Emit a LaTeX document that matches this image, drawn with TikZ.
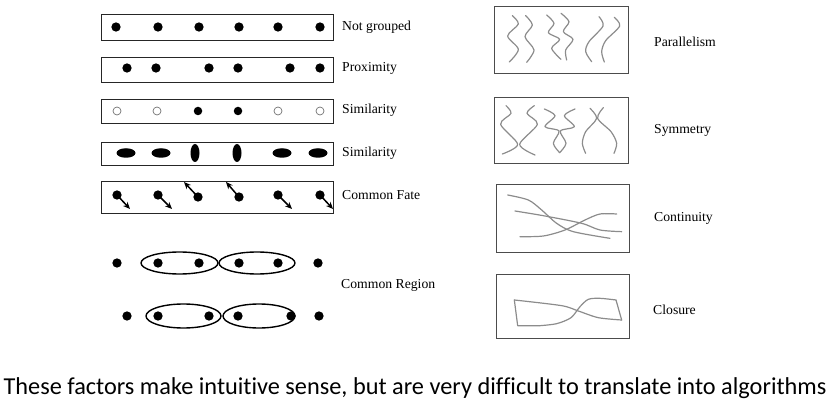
\documentclass[tikz,border=0pt]{standalone}
\usepackage{fontspec}
\setmainfont{Liberation Serif}
\newfontfamily\calib[Ligatures=NoCommon]{Carlito}
\usetikzlibrary{arrows.meta,shapes.geometric}
\begin{document}
\begin{tikzpicture}[x=1pt,y=-1pt,
  frame/.style={draw=black!85, line width=0.9pt},
  rframe/.style={draw=black!70, line width=0.9pt},
  dot/.style={circle, fill=black, inner sep=0pt, minimum size=9.3pt},
  odot/.style={circle, draw=black!55, line width=0.7pt, fill=white, inner sep=0pt, minimum size=8pt},
  hdot/.style={ellipse, fill=black, inner sep=0pt, minimum width=19pt, minimum height=9.5pt},
  vdot/.style={ellipse, fill=black, inner sep=0pt, minimum width=9pt, minimum height=18pt},
  lab/.style={anchor=west, font=\fontsize{13.7}{16}\selectfont, inner sep=0pt},
  curve/.style={draw=black!45, line width=1.2pt, line cap=round, line join=round},
  fate/.style={-{Stealth[length=7pt,width=6pt]}, line width=1.5pt},
  region/.style={ellipse, draw, line width=1.4pt, inner sep=0pt}
]
\useasboundingbox (0,0) rectangle (830,406);

% ---------- left panel ----------
% row 1
\draw[frame] (101,14) rectangle (333,40);
\foreach \x [count=\i] in {116,158,199,239,278,320} \node[dot] (a\i) at (\x,27) {};
\node[lab] (l1) at (342,27) {Not grouped};
% row 2
\draw[frame] (101,57) rectangle (333,82);
\foreach \x [count=\i] in {127,156,209,238,290,320} \node[dot] (b\i) at (\x,68) {};
\node[lab] (l2) at (342,68) {Proximity};
% row 3
\draw[frame] (101,99) rectangle (333,123);
\node[odot] (c1) at (117,111) {};
\node[odot] (c2) at (157,111) {};
\node[dot,minimum size=8.5pt] (c3) at (198,111) {};
\node[dot,minimum size=8.5pt] (c4) at (238,111) {};
\node[odot] (c5) at (278,111) {};
\node[odot] (c6) at (320,111) {};
\node[lab] (l3) at (342,110) {Similarity};
% row 4
\draw[frame] (101,142) rectangle (333,165);
\node[hdot] (d1) at (126,153) {};
\node[hdot] (d2) at (161,153) {};
\node[vdot] (d3) at (195,153) {};
\node[vdot] (d4) at (237,153) {};
\node[hdot] (d5) at (282,153) {};
\node[hdot] (d6) at (318,153) {};
\node[lab] (l4) at (342,153) {Similarity};
% row 5
\draw[frame] (101,181) rectangle (333,213);
\node[dot] (e1) at (117,195) {};
\node[dot] (e2) at (158,195) {};
\node[dot] (e3) at (198,197) {};
\node[dot] (e4) at (239,197) {};
\node[dot] (e5) at (278,195) {};
\node[dot] (e6) at (320,195) {};
\coordinate (f1) at (130,209);
\coordinate (f2) at (172,209);
\coordinate (f3) at (184,182);
\coordinate (f4) at (226,182);
\coordinate (f5) at (292,209);
\coordinate (f6) at (333,209);
\foreach \i in {1,...,6} \draw[fate] (e\i.center) -- (f\i);
\node[lab] (l5) at (342,195) {Common Fate};
% common region
\foreach \x [count=\i] in {117,158,199,239,278,318} \node[dot] (g\i) at (\x,263) {};
\node[region, minimum width=77pt, minimum height=22pt] (r1) at (179.5,263) {};
\node[region, minimum width=76pt, minimum height=22pt] (r2) at (257,263) {};
\foreach \x [count=\i] in {127,158,209,238,291,319} \node[dot] (h\i) at (\x,316) {};
\node[region, minimum width=75pt, minimum height=24pt] (r3) at (183.5,316) {};
\node[region, minimum width=72pt, minimum height=24pt] (r4) at (259,316) {};
\node[lab] (l6) at (341,285) {Common Region};

% ---------- right panel ----------
\draw[rframe] (494,6) rectangle (628,73);
\begin{scope}[shift={(485,0)}, scale=1/3]
  \draw[curve] plot[smooth] coordinates {(82,47) (100,72) (68,108) (100,148) (73,186)};
  \draw[curve] plot[smooth] coordinates {(122,47) (142,75) (120,110) (147,150) (125,187)};
  \draw[curve] plot[smooth] coordinates {(185,45) (207,70) (190,98) (224,118) (200,145) (228,178)};
  \draw[curve] plot[smooth] coordinates {(228,40) (252,65) (235,95) (264,118) (242,150) (245,180)};
  \draw[curve] plot[smooth] coordinates {(342,50) (354,78) (312,125) (302,155) (320,185)};
  \draw[curve] plot[smooth] coordinates {(388,52) (404,78) (362,122) (350,155) (358,186)};
\end{scope}
\node[lab] (p1) at (654,42) {Parallelism};

\draw[rframe] (494,97) rectangle (628,163);
\begin{scope}[shift={(485,85)}, scale=1/3]
  \draw[curve] plot[smooth] coordinates {(63,62) (78,85) (47,118) (98,178) (52,207)};
  \draw[curve] plot[smooth] coordinates {(148,62) (126,85) (157,118) (104,178) (150,210)};
  \draw[curve] plot[smooth] coordinates {(178,72) (210,92) (180,125) (222,138) (205,175) (224,203)};
  \draw[curve] plot[smooth] coordinates {(270,72) (238,92) (268,125) (226,138) (243,175) (224,203)};
  \draw[curve] plot[smooth] coordinates {(315,70) (335,100) (302,140) (292,175) (302,205)};
  \draw[curve] plot[smooth] coordinates {(355,68) (338,100) (378,140) (395,175) (387,205)};
\end{scope}
\node[lab] (p2) at (654,130) {Symmetry};

\draw[rframe] (496,184) rectangle (629,252);
\begin{scope}[shift={(485,175)}, scale=1/3]
  \draw[curve] plot[smooth] coordinates {(68,60) (130,75) (170,105) (215,145) (265,170) (375,190)};
  \draw[curve] plot[smooth] coordinates {(90,108) (180,123) (290,145) (345,165) (410,170)};
  \draw[curve] plot[smooth] coordinates {(105,185) (175,183) (240,165) (300,135) (345,117) (395,117)};
\end{scope}
\node[lab] (p3) at (654,218) {Continuity};

\draw[rframe] (496,274) rectangle (629,338);
\begin{scope}[shift={(485,265)}, scale=1/3]
  \draw[curve] (88,105) -- (98,182) -- (165,182);
  \draw[curve] plot[smooth] coordinates {(165,182) (215,176) (258,158) (285,125) (310,103) (345,100) (393,105)};
  \draw[curve] (393,105) -- (410,165);
  \draw[curve] plot[smooth] coordinates {(410,165) (340,158) (280,138) (230,122) (88,105)};
\end{scope}
\node[lab] (p4) at (653,310) {Closure};

% ---------- caption ----------
\node[font=\calib\fontsize{24.3}{29}\selectfont, inner sep=0pt] (cap) at (415,388) {These factors make intuitive sense, but are very difficult to translate into algorithms};
\end{tikzpicture}
\end{document}
